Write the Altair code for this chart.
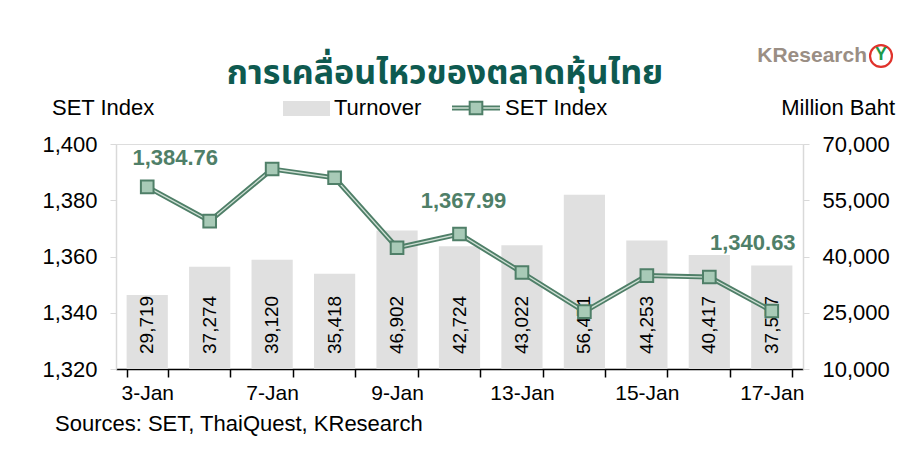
import altair as alt
import pandas as pd

days = ["3-Jan", "4-Jan", "7-Jan", "8-Jan", "9-Jan", "10-Jan",
        "13-Jan", "14-Jan", "15-Jan", "16-Jan", "17-Jan"]
turnover = [29719, 37274, 39120, 35418, 46902, 42724, 43022, 56471, 44253, 40417, 37577]
set_index = [1384.76, 1372.6, 1391.1, 1388.0, 1363.1, 1367.99,
             1354.3, 1340.4, 1353.2, 1352.7, 1340.63]
shown_labels = ["3-Jan", "7-Jan", "9-Jan", "13-Jan", "15-Jan", "17-Jan"]
left_ticks = [1320, 1340, 1360, 1380, 1400]
right_ticks = [10000, 25000, 40000, 55000, 70000]

title_text = "การเคลื่อนไหวของตลาดหุ้นไทย"
source_text = "Sources: SET, ThaiQuest, KResearch"

df = pd.DataFrame({"day": days, "turnover": turnover, "set": set_index})
one = pd.DataFrame({"k": [0]})

FONT = "Liberation Sans"
DARK = "#4f7f68"
LIGHT = "#cfe0d5"
MARK_FILL = "#a8cab7"
BAR = "#e0e0e0"

label_list = "[" + ",".join("'" + s + "'" for s in shown_labels) + "]"
xenc = alt.X(
    "day:N", sort=days,
    scale=alt.Scale(paddingInner=0.34, paddingOuter=0.17),
    axis=alt.Axis(
        title=None, labelAngle=0, labelFontSize=21, labelColor="black",
        labelExpr=f"indexof({label_list}, datum.value) >= 0 ? datum.value : ''",
        labelOverlap=False, tickBand="extent", domainColor="black",
        domainWidth=1.5, tickColor="black", tickWidth=1.5, tickSize=8,
        labelPadding=5, labelFont=FONT,
    ),
)

yright = alt.Y(
    "turnover:Q",
    scale=alt.Scale(domain=[10000, 70000], nice=False, zero=False),
    axis=alt.Axis(
        orient="right", title=None, values=right_ticks, format=",d",
        labelFontSize=22, labelColor="black", domainColor="#d9d9d9",
        domainWidth=1.5, tickColor="#d9d9d9", tickSize=6, grid=False,
        labelPadding=13, labelFont=FONT,
    ),
)

bars = alt.Chart(df).mark_bar(color=BAR).encode(x=xenc, y=yright, y2=alt.datum(10000))
bar_text = alt.Chart(df).mark_text(
    angle=270, align="left", baseline="middle", fontSize=19, color="black", font=FONT
).encode(x=alt.X("day:N", sort=days), y=alt.datum(14000), text=alt.Text("turnover:Q", format=",d"))
bar_layer = alt.layer(bars, bar_text)

yleft = alt.Y(
    "set:Q",
    scale=alt.Scale(domain=[1320, 1400], nice=False, zero=False),
    axis=alt.Axis(
        orient="left", title=None, values=left_ticks, format=",d",
        labelFontSize=22, labelColor="black", domainColor="#d9d9d9",
        domainWidth=1.5, tickColor="#d9d9d9", tickSize=6, grid=False,
        labelPadding=13, labelFont=FONT,
    ),
)

base = alt.Chart(df).encode(x=alt.X("day:N", sort=days))
line_outer = base.mark_line(color=DARK, strokeWidth=5).encode(y=yleft)
line_inner = base.mark_line(color=LIGHT, strokeWidth=1.3).encode(y=alt.Y("set:Q"))
pts = base.mark_square(size=160, color=MARK_FILL, stroke=DARK, strokeWidth=2, opacity=1).encode(y=alt.Y("set:Q"))

def callout(day, dx, dy):
    return base.transform_filter(alt.datum.day == day).mark_text(
        fontSize=22, fontWeight="bold", color=DARK, font=FONT, dx=dx, dy=dy
    ).encode(y=alt.Y("set:Q"), text=alt.Text("set:Q", format=",.2f"))

line_layer = alt.layer(
    line_outer, line_inner, pts,
    callout("3-Jan", 28, -29), callout("10-Jan", 4, -33), callout("17-Jan", -19, -68),
)

deco = alt.Chart(one)
title = deco.mark_text(fontSize=34, fontWeight="bold", color="#0e5a50",
                       font="Noto Sans Thai, Noto Sans, sans-serif", align="center", baseline="middle").encode(
    x=alt.value(329), y=alt.value(-70), text=alt.value(title_text))
logo = deco.mark_text(fontSize=21, fontWeight="bold", color="#9a8e84", font=FONT,
                      align="right", baseline="middle").encode(
    x=alt.value(751), y=alt.value(-88), text=alt.value("KResearch"))
logo_circle = deco.mark_point(shape="circle", size=480, color="#e0322b", strokeWidth=2.2, filled=False, opacity=1).encode(
    x=alt.value(765), y=alt.value(-88))
logo_leaf = deco.mark_text(fontSize=18, fontWeight="bold", color="#1e9a4a", font=FONT,
                           align="center", baseline="middle").encode(
    x=alt.value(765), y=alt.value(-89), text=alt.value("Y"))
left_title = deco.mark_text(fontSize=22, color="black", font=FONT, align="left", baseline="middle").encode(
    x=alt.value(-64), y=alt.value(-36), text=alt.value("SET Index"))
right_title = deco.mark_text(fontSize=22, color="black", font=FONT, align="right", baseline="middle").encode(
    x=alt.value(779), y=alt.value(-36), text=alt.value("Million Baht"))
leg_rect = deco.mark_rect(color=BAR).encode(
    x=alt.value(167), x2=alt.value(214), y=alt.value(-43), y2=alt.value(-28))
leg_t1 = deco.mark_text(fontSize=22, color="black", font=FONT, align="left", baseline="middle").encode(
    x=alt.value(218), y=alt.value(-36), text=alt.value("Turnover"))
leg_l1 = deco.mark_rule(color=DARK, strokeWidth=5).encode(
    x=alt.value(336), x2=alt.value(384), y=alt.value(-36))
leg_l2 = deco.mark_rule(color=LIGHT, strokeWidth=1.3).encode(
    x=alt.value(336), x2=alt.value(384), y=alt.value(-36))
leg_sq = deco.mark_square(size=160, color=MARK_FILL, stroke=DARK, strokeWidth=2, opacity=1).encode(
    x=alt.value(360), y=alt.value(-36))
leg_t2 = deco.mark_text(fontSize=22, color="black", font=FONT, align="left", baseline="middle").encode(
    x=alt.value(389), y=alt.value(-36), text=alt.value("SET Index"))
source = deco.mark_text(fontSize=22, color="black", font=FONT, align="left", baseline="middle").encode(
    x=alt.value(-61), y=alt.value(280), text=alt.value(source_text))

chart = alt.layer(
    bar_layer, line_layer,
    title, logo, logo_circle, logo_leaf, left_title, right_title,
    leg_rect, leg_t1, leg_l1, leg_l2, leg_sq, leg_t2, source,
).resolve_scale(y="independent").properties(
    width=687, height=225,
    autosize=alt.AutoSizeParams(type="none"),
    padding={"left": 108, "top": 136, "right": 100, "bottom": 70},
).configure_view(stroke=None).configure(font=FONT)

chart.save("out.html", embed_options={"renderer": "svg", "actions": False})
